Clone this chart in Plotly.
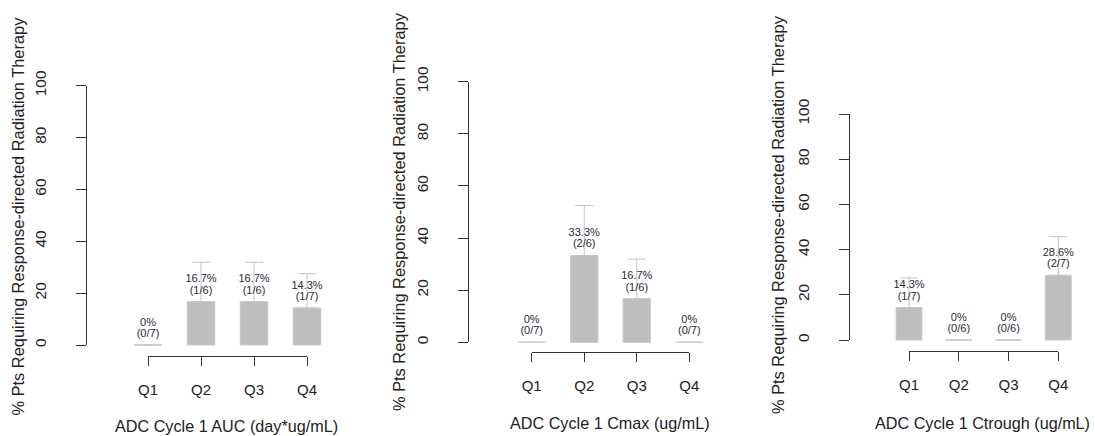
import plotly.graph_objects as go

# ---------------- data ----------------
categories = ["Q1", "Q2", "Q3", "Q4"]

auc_pct = [0, 16.7, 16.7, 14.3]
auc_frac = ["0/7", "1/6", "1/6", "1/7"]
auc_err = [0, 15.2, 15.2, 13.2]

cmax_pct = [0, 33.3, 16.7, 0]
cmax_frac = ["0/7", "2/6", "1/6", "0/7"]
cmax_err = [0, 19.2, 15.2, 0]

ctrough_pct = [14.3, 0, 0, 28.6]
ctrough_frac = ["1/7", "0/6", "0/6", "2/7"]
ctrough_err = [13.2, 0, 0, 17.1]

y_ticks = [0, 20, 40, 60, 80, 100]
y_title = "% Pts Requiring Response-directed Radiation Therapy"
x_titles = ["ADC Cycle 1 AUC (day*ug/mL)", "ADC Cycle 1 Cmax (ug/mL)", "ADC Cycle 1 Ctrough (ug/mL)"]

# ---------------- layout geometry (pixels) ----------------
W, H = 1095, 436
FONT = "Liberation Sans, Arial, sans-serif"
AX = "#333333"
BAR = "#bebebe"
ERR = "#c4c4c4"
TXT = "#2a2a36"
LBL = "#222222"

panels = [
    dict(pct=auc_pct, frac=auc_frac, err=auc_err, yline=85.7, y0=345.0, y100=85.7,
         xq1=148.0, xq4=307.0, xline=356.0, ytx=17.5, yty=216.0, xtx=226.0, xty=426.0),
    dict(pct=cmax_pct, frac=cmax_frac, err=cmax_err, yline=468.3, y0=342.3, y100=81.7,
         xq1=531.7, xq4=689.3, xline=352.3, ytx=399.0, yty=212.0, xtx=610.0, xty=423.0),
    dict(pct=ctrough_pct, frac=ctrough_frac, err=ctrough_err, yline=849.0, y0=340.0, y100=114.0,
         xq1=909.0, xq4=1058.3, xline=350.7, ytx=778.0, yty=215.0, xtx=982.5, xty=423.0),
]

fig = go.Figure()
layout = dict(
    template="none",
    width=W, height=H, margin=dict(l=0, r=0, t=0, b=0, autoexpand=False),
    paper_bgcolor="white", plot_bgcolor="rgba(0,0,0,0)",
    showlegend=False, font=dict(family=FONT, color=AX),
)
annotations = []
pos = [1, 2, 3, 4]
bw = 0.52
ext = 0.7

for i, p in enumerate(panels):
    ia = 2 * i + 1   # hidden data axes
    ib = 2 * i + 2   # visible axes
    xa, ya = f"x{ia}", f"y{ia}"
    xb, yb = f"x{ib}", f"y{ib}"
    sp = (p["xq4"] - p["xq1"]) / 3.0
    ppu = (p["y0"] - p["y100"]) / 100.0
    pad = 15.0

    layout[f"xaxis{ia}"] = dict(domain=[(p["xq1"] - ext * sp) / W, (p["xq4"] + ext * sp) / W],
                                range=[1 - ext, 4 + ext], visible=False, anchor=ya,
                                automargin=False, fixedrange=True)
    layout[f"yaxis{ia}"] = dict(domain=[1 - (p["y0"] + pad) / H, 1 - (p["y100"] - pad) / H],
                                range=[-pad / ppu, 100 + pad / ppu], visible=False, anchor=xa,
                                automargin=False, fixedrange=True)
    layout[f"xaxis{ib}"] = dict(domain=[p["xq1"] / W, p["xq4"] / W], range=[1, 4],
                                anchor="free", position=1 - p["xline"] / H, side="bottom",
                                showline=True, linecolor=AX, linewidth=1,
                                ticks="outside", ticklen=9, tickcolor=AX, tickwidth=1,
                                tickvals=pos, ticktext=categories, showgrid=False, zeroline=False,
                                tickfont=dict(size=15, color=LBL, family=FONT),
                                ticklabelstandoff=11, automargin=False, fixedrange=True)
    layout[f"yaxis{ib}"] = dict(domain=[1 - p["y0"] / H, 1 - p["y100"] / H], range=[0, 100],
                                anchor="free", position=p["yline"] / W, side="left",
                                showline=True, linecolor=AX, linewidth=1,
                                ticks="outside", ticklen=10, tickcolor=AX, tickwidth=1,
                                tickvals=y_ticks, tickangle=-90, showgrid=False, zeroline=False,
                                tickfont=dict(size=15.5, color=LBL, family=FONT),
                                ticklabelstandoff=24, automargin=False, fixedrange=True)

    err_plus = [e if e > 0 else None for e in p["err"]]
    fig.add_trace(go.Bar(
        x=pos, y=p["pct"], width=bw, xaxis=xa, yaxis=ya,
        marker=dict(color=BAR, line=dict(color="#c8c8c8", width=1)),
        error_y=dict(type="data", symmetric=False, array=err_plus,
                     arrayminus=[0] * len(pos), color=ERR, thickness=1, width=9),
        hoverinfo="skip",
    ))
    zx = [x for x, v in zip(pos, p["pct"]) if v == 0]
    zy = [v for v in p["pct"] if v == 0]
    fig.add_trace(go.Scatter(
        x=zx, y=zy, mode="markers", xaxis=xa, yaxis=ya, cliponaxis=False,
        marker=dict(symbol="line-ew", size=bw * sp / 1.4,
                    line=dict(color="#d0d0d0", width=1.2)),
        hoverinfo="skip",
    ))
    # percentage line (upper) and count line (lower) of each label
    pct_text = [f"{v:g}%" for v in p["pct"]]
    frac_text = [f"({f})" for f in p["frac"]]
    for txt, msize in ((frac_text, 7), (pct_text, 25)):
        fig.add_trace(go.Scatter(
            x=pos, y=p["pct"], mode="markers+text", text=txt, textposition="top center",
            marker=dict(size=msize, opacity=0),
            textfont=dict(size=11, color=TXT, family=FONT), xaxis=xb, yaxis=yb,
            cliponaxis=False, hoverinfo="skip",
        ))

    annotations.append(dict(text=y_title, x=p["ytx"] / W, y=1 - p["yty"] / H,
                            xref="paper", yref="paper", xanchor="center", yanchor="middle",
                            textangle=-90, showarrow=False,
                            font=dict(size=16.4, color=LBL, family=FONT)))
    annotations.append(dict(text=x_titles[i], x=p["xtx"] / W, y=1 - p["xty"] / H,
                            xref="paper", yref="paper", xanchor="center", yanchor="middle",
                            showarrow=False, font=dict(size=16.2, color=LBL, family=FONT)))

layout["annotations"] = annotations
fig.update_layout(**layout)
fig.write_html("out.html")
